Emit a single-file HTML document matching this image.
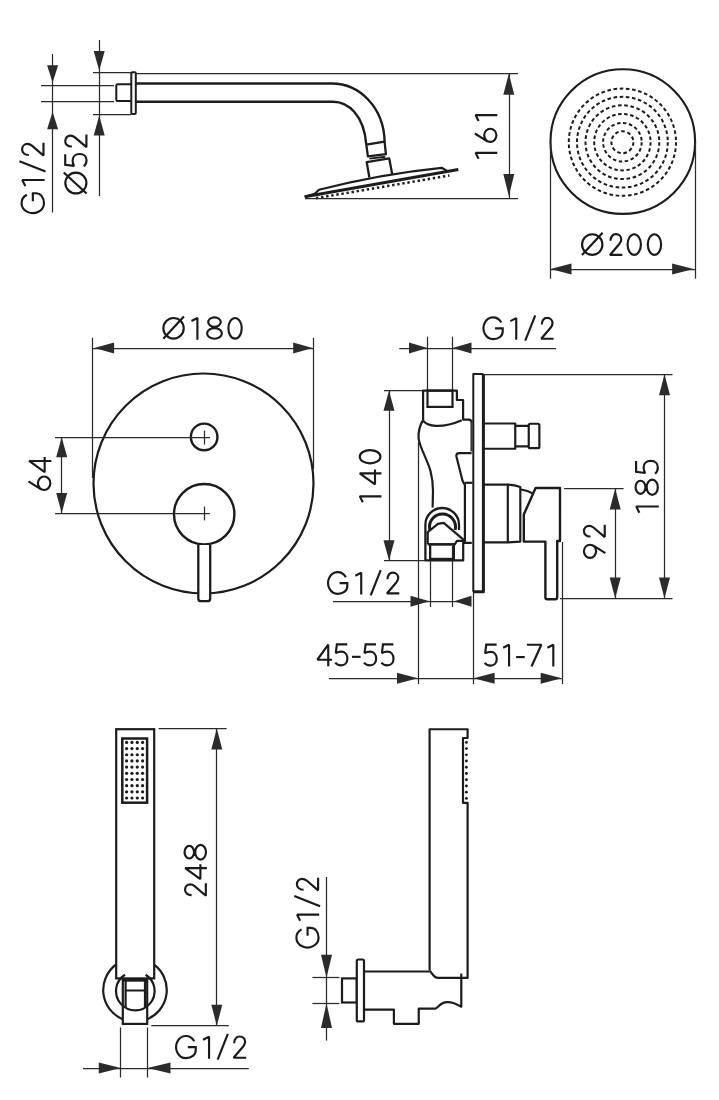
<!DOCTYPE html>
<html><head><meta charset="utf-8"><style>
html,body{margin:0;padding:0;background:#fff;}
svg{display:block;}
text{font-family:"Liberation Sans",sans-serif;fill:#1e1e1e;}
</style></head><body>
<svg width="719" height="1100" viewBox="0 0 719 1100">
<rect x="0" y="0" width="719" height="1100" fill="#fff"/>
<line x1="41" y1="85.5" x2="114" y2="85.5" stroke="#2b2b2b" stroke-width="1.25"/>
<line x1="41" y1="101.5" x2="114" y2="101.5" stroke="#2b2b2b" stroke-width="1.25"/>
<line x1="93" y1="72.5" x2="131" y2="72.5" stroke="#2b2b2b" stroke-width="1.25"/>
<line x1="93" y1="114.5" x2="131" y2="114.5" stroke="#2b2b2b" stroke-width="1.25"/>
<line x1="52.5" y1="54" x2="52.5" y2="212.5" stroke="#2b2b2b" stroke-width="1.25"/>
<polygon points="52.60,82.80 47.10,65.30 58.10,65.30" fill="#2b2b2b"/>
<polygon points="52.60,111.70 47.10,129.20 58.10,129.20" fill="#2b2b2b"/>
<line x1="99.5" y1="40" x2="99.5" y2="196" stroke="#2b2b2b" stroke-width="1.25"/>
<polygon points="99.20,70.60 93.70,51.10 104.70,51.10" fill="#2b2b2b"/>
<polygon points="99.20,115.60 93.70,135.60 104.70,135.60" fill="#2b2b2b"/>
<g fill="none" stroke="#1a1a1a" stroke-width="2.087378640776699" stroke-linecap="butt" stroke-linejoin="miter" stroke-miterlimit="1.6"><path transform="translate(44.6,214.20) rotate(-90) scale(1.03)" d="M18.86,-17.26 A9.62,10.88 0 1 0 10.70,-0.62 C16.30,-0.62 20.32,-3.83 20.32,-8.62 L20.32,-11.40 L12.6,-11.40"/><path transform="translate(44.6,186.84) rotate(-90) scale(1.03)" d="M0.7,-18.7 L6.62,-21.68 L6.62,0"/><path transform="translate(44.6,172.58) rotate(-90) scale(1.03)" d="M1.0,0.9 L11.0,-24.4"/><path transform="translate(44.6,156.71) rotate(-90) scale(1.03)" d="M1.7,-15.3 C1.6,-19.2 3.9,-21.85 7.0,-21.85 C10.3,-21.85 12.4,-19.5 12.4,-16.6 C12.4,-14.8 11.7,-13.6 10.7,-12.3 L1.1,-1.07 L13.5,-1.07"/></g>
<g fill="none" stroke="#1a1a1a" stroke-width="2.107843137254902" stroke-linecap="butt" stroke-linejoin="miter" stroke-miterlimit="1.6"><path transform="translate(87.5,194.50) rotate(-90) scale(1.02)" d="M1.07,-11.40 A10.18,10.33 0 1 0 21.43,-11.40 A10.18,10.33 0 1 0 1.07,-11.40 Z M1.0,-0.9 L21.6,-23.3"/><path transform="translate(87.5,167.30) rotate(-90) scale(1.02)" d="M12.9,-21.85 L2.5,-21.85 L1.4,-13.1 C3.0,-14.1 5.0,-14.6 6.9,-14.6 C10.6,-14.6 13.0,-11.7 13.0,-7.6 C13.0,-3.4 10.4,-0.95 6.8,-0.95 C4.6,-0.95 2.2,-1.8 0.9,-3.6"/><path transform="translate(87.5,148.27) rotate(-90) scale(1.02)" d="M1.7,-15.3 C1.6,-19.2 3.9,-21.85 7.0,-21.85 C10.3,-21.85 12.4,-19.5 12.4,-16.6 C12.4,-14.8 11.7,-13.6 10.7,-12.3 L1.1,-1.07 L13.5,-1.07"/></g>
<path d="M131.3,84.2 L117.5,84.2 Q116.3,84.2 116.3,85.4 L116.3,99.8 Q116.3,101 117.5,101 L131.3,101" stroke="#1c1c1c" stroke-width="2" fill="none" stroke-linejoin="round" />
<rect x="131.3" y="72.2" width="4.5" height="41.8" rx="1" stroke="#1c1c1c" stroke-width="2" fill="none"/>
<line x1="136" y1="73.5" x2="518" y2="73.5" stroke="#2b2b2b" stroke-width="1.25"/>
<path d="M136,83.5 L331.7,83.5 C360,83.5 384,108 384.6,141.7" stroke="#1c1c1c" stroke-width="2.4" fill="none" stroke-linejoin="round" />
<path d="M136,101.7 L333,101.7 C348,101.7 364,115 366.3,144.6" stroke="#1c1c1c" stroke-width="2.4" fill="none" stroke-linejoin="round" />
<path d="M366.3,144.6 L384.6,141.7 L385.9,154.2 L367.9,156.4 Z" stroke="#1c1c1c" stroke-width="2.3" fill="none" stroke-linejoin="round" />
<path d="M369.4,158.6 L385.3,156.7" stroke="#1c1c1c" stroke-width="1.9" fill="none" stroke-linejoin="round" />
<path d="M369.4,177.5 L366.7,162.1 L389.2,158.4 L392.2,174.2" stroke="#1c1c1c" stroke-width="2.3" fill="none" stroke-linejoin="round" />
<path d="M304.7,196.7 L458.3,169.4" stroke="#1c1c1c" stroke-width="3" fill="none" stroke-linejoin="round" />
<path d="M304.7,196.7 L314.7,193.7 L319,189.7 Q380,174 441.7,167.8 L446.7,170.6" stroke="#1c1c1c" stroke-width="2.2" fill="none" stroke-linejoin="round" />
<path d="M316,198.2 L449.4,175.5" stroke="#1c1c1c" stroke-width="2.5" stroke-dasharray="2.4 2.75" fill="none"/>
<line x1="305" y1="198.5" x2="518" y2="198.5" stroke="#2b2b2b" stroke-width="1.25"/>
<line x1="509.5" y1="73.3" x2="509.5" y2="198.6" stroke="#2b2b2b" stroke-width="1.25"/>
<polygon points="508.80,73.80 503.30,94.80 514.30,94.80" fill="#2b2b2b"/>
<polygon points="508.80,196.00 503.30,174.00 514.30,174.00" fill="#2b2b2b"/>
<g fill="none" stroke="#1a1a1a" stroke-width="2.15" stroke-linecap="butt" stroke-linejoin="miter" stroke-miterlimit="1.6"><path transform="translate(497.3,159.50) rotate(-90) scale(1.0)" d="M0.7,-18.7 L6.62,-21.68 L6.62,0"/><path transform="translate(497.3,143.30) rotate(-90) scale(1.0)" d="M1.40,-7.00 A6.60,6.10 0 1 0 14.60,-7.00 A6.60,6.10 0 1 0 1.40,-7.00 Z M9.8,-22.4 L2.0,-10.0"/><path transform="translate(497.3,121.70) rotate(-90) scale(1.0)" d="M0.7,-18.7 L6.62,-21.68 L6.62,0"/></g>
<circle cx="622.8" cy="141.6" r="72.3" stroke="#1c1c1c" stroke-width="2.1" fill="none" />
<circle cx="622.4" cy="142.2" r="11" stroke="#1c1c1c" stroke-width="2.0" fill="none" stroke-dasharray="3.644 2.639"/>
<circle cx="622.4" cy="142.2" r="19.3" stroke="#1c1c1c" stroke-width="2.0" fill="none" stroke-dasharray="3.517 2.547"/>
<circle cx="622.4" cy="142.2" r="28.2" stroke="#1c1c1c" stroke-width="2.0" fill="none" stroke-dasharray="3.544 2.566"/>
<circle cx="622.4" cy="142.2" r="36.9" stroke="#1c1c1c" stroke-width="2.0" fill="none" stroke-dasharray="3.634 2.632"/>
<circle cx="622.4" cy="142.2" r="45.4" stroke="#1c1c1c" stroke-width="2.0" fill="none" stroke-dasharray="3.597 2.605"/>
<circle cx="622.4" cy="142.2" r="53.6" stroke="#1c1c1c" stroke-width="2.0" fill="none" stroke-dasharray="3.617 2.619"/>
<line x1="550.5" y1="141.6" x2="550.5" y2="278.7" stroke="#2b2b2b" stroke-width="1.25"/>
<line x1="695.5" y1="141.6" x2="695.5" y2="278.7" stroke="#2b2b2b" stroke-width="1.25"/>
<line x1="550.5" y1="269.5" x2="695.1" y2="269.5" stroke="#2b2b2b" stroke-width="1.25"/>
<polygon points="550.50,269.00 571.50,263.50 571.50,274.50" fill="#2b2b2b"/>
<polygon points="693.60,269.00 672.10,263.50 672.10,274.50" fill="#2b2b2b"/>
<g fill="none" stroke="#1a1a1a" stroke-width="2.15" stroke-linecap="butt" stroke-linejoin="miter" stroke-miterlimit="1.6"><path transform="translate(581.00,256) scale(1.0)" d="M1.07,-11.40 A10.18,10.33 0 1 0 21.43,-11.40 A10.18,10.33 0 1 0 1.07,-11.40 Z M1.0,-0.9 L21.6,-23.3"/><path transform="translate(608.83,256) scale(1.0)" d="M1.7,-15.3 C1.6,-19.2 3.9,-21.85 7.0,-21.85 C10.3,-21.85 12.4,-19.5 12.4,-16.6 C12.4,-14.8 11.7,-13.6 10.7,-12.3 L1.1,-1.07 L13.5,-1.07"/><path transform="translate(626.47,256) scale(1.0)" d="M1.08,-11.40 A6.67,10.33 0 1 0 14.43,-11.40 A6.67,10.33 0 1 0 1.08,-11.40 Z"/><path transform="translate(646.70,256) scale(1.0)" d="M1.08,-11.40 A6.67,10.33 0 1 0 14.43,-11.40 A6.67,10.33 0 1 0 1.08,-11.40 Z"/></g>
<circle cx="203.5" cy="483.5" r="110" stroke="#1c1c1c" stroke-width="2.2" fill="none" />
<line x1="92.5" y1="337.8" x2="92.5" y2="478" stroke="#2b2b2b" stroke-width="1.25"/>
<line x1="313.5" y1="337.8" x2="313.5" y2="469" stroke="#2b2b2b" stroke-width="1.25"/>
<line x1="92.7" y1="348.5" x2="313.7" y2="348.5" stroke="#2b2b2b" stroke-width="1.25"/>
<polygon points="94.30,348.00 114.10,342.50 114.10,353.50" fill="#2b2b2b"/>
<polygon points="312.60,348.00 293.20,342.50 293.20,353.50" fill="#2b2b2b"/>
<g fill="none" stroke="#1a1a1a" stroke-width="2.15" stroke-linecap="butt" stroke-linejoin="miter" stroke-miterlimit="1.6"><path transform="translate(162.30,339.7) scale(1.0)" d="M1.07,-11.40 A10.18,10.33 0 1 0 21.43,-11.40 A10.18,10.33 0 1 0 1.07,-11.40 Z M1.0,-0.9 L21.6,-23.3"/><path transform="translate(190.79,339.7) scale(1.0)" d="M0.7,-18.7 L6.62,-21.68 L6.62,0"/><path transform="translate(206.18,339.7) scale(1.0)" d="M2.00,-17.60 A6.30,4.75 0 1 0 14.60,-17.60 A6.30,4.75 0 1 0 2.00,-17.60 Z M0.95,-6.30 A7.35,5.35 0 1 0 15.65,-6.30 A7.35,5.35 0 1 0 0.95,-6.30 Z"/><path transform="translate(227.30,339.7) scale(1.0)" d="M1.08,-11.40 A6.67,10.33 0 1 0 14.43,-11.40 A6.67,10.33 0 1 0 1.08,-11.40 Z"/></g>
<circle cx="204.15" cy="436.9" r="13.3" stroke="#1c1c1c" stroke-width="2.4" fill="#fff" />
<circle cx="204.2" cy="514.2" r="30.2" stroke="#1c1c1c" stroke-width="2.4" fill="#fff" />
<line x1="55" y1="437.5" x2="210" y2="437.5" stroke="#2b2b2b" stroke-width="1.25"/>
<line x1="204.5" y1="430.6" x2="204.5" y2="444.6" stroke="#2b2b2b" stroke-width="1.25"/>
<line x1="55" y1="513.5" x2="209.8" y2="513.5" stroke="#2b2b2b" stroke-width="1.25"/>
<line x1="204.5" y1="506.7" x2="204.5" y2="520.4" stroke="#2b2b2b" stroke-width="1.25"/>
<line x1="61.5" y1="437.3" x2="61.5" y2="513" stroke="#2b2b2b" stroke-width="1.25"/>
<polygon points="61.70,437.30 56.20,457.30 67.20,457.30" fill="#2b2b2b"/>
<polygon points="61.70,513.00 56.20,493.00 67.20,493.00" fill="#2b2b2b"/>
<g fill="none" stroke="#1a1a1a" stroke-width="2.107843137254902" stroke-linecap="butt" stroke-linejoin="miter" stroke-miterlimit="1.6"><path transform="translate(51.3,491.40) rotate(-90) scale(1.02)" d="M1.40,-7.00 A6.60,6.10 0 1 0 14.60,-7.00 A6.60,6.10 0 1 0 1.40,-7.00 Z M9.8,-22.4 L2.0,-10.0"/><path transform="translate(51.3,473.22) rotate(-90) scale(1.02)" d="M12.0,0 L12.0,-21.73 L1.07,-6.5 L15.8,-6.5"/></g>
<path d="M198.3,545 L198.3,598.4 Q198.3,601.2 201.1,601.2 L207.4,601.2 Q210.2,601.2 210.2,598.4 L210.2,545" stroke="#1c1c1c" stroke-width="2.3" fill="#fff" stroke-linejoin="round" />
<line x1="399.3" y1="348.5" x2="556" y2="348.5" stroke="#2b2b2b" stroke-width="1.25"/>
<polygon points="427.50,348.00 409.00,342.50 409.00,353.50" fill="#2b2b2b"/>
<polygon points="452.50,348.00 471.50,342.50 471.50,353.50" fill="#2b2b2b"/>
<line x1="427.5" y1="336.7" x2="427.5" y2="391" stroke="#2b2b2b" stroke-width="1.25"/>
<line x1="452.5" y1="336.7" x2="452.5" y2="391" stroke="#2b2b2b" stroke-width="1.25"/>
<g fill="none" stroke="#1a1a1a" stroke-width="2.15" stroke-linecap="butt" stroke-linejoin="miter" stroke-miterlimit="1.6"><path transform="translate(482.40,339.8) scale(1.0)" d="M18.86,-17.26 A9.62,10.88 0 1 0 10.70,-0.62 C16.30,-0.62 20.32,-3.83 20.32,-8.62 L20.32,-11.40 L12.6,-11.40"/><path transform="translate(509.63,339.8) scale(1.0)" d="M0.7,-18.7 L6.62,-21.68 L6.62,0"/><path transform="translate(524.25,339.8) scale(1.0)" d="M1.0,0.9 L11.0,-24.4"/><path transform="translate(540.10,339.8) scale(1.0)" d="M1.7,-15.3 C1.6,-19.2 3.9,-21.85 7.0,-21.85 C10.3,-21.85 12.4,-19.5 12.4,-16.6 C12.4,-14.8 11.7,-13.6 10.7,-12.3 L1.1,-1.07 L13.5,-1.07"/></g>
<line x1="384" y1="390.5" x2="423" y2="390.5" stroke="#2b2b2b" stroke-width="1.25"/>
<line x1="384" y1="560.5" x2="426" y2="560.5" stroke="#2b2b2b" stroke-width="1.25"/>
<line x1="389.5" y1="390.7" x2="389.5" y2="560.3" stroke="#2b2b2b" stroke-width="1.25"/>
<polygon points="389.00,390.70 383.50,410.70 394.50,410.70" fill="#2b2b2b"/>
<polygon points="389.00,560.30 383.50,540.30 394.50,540.30" fill="#2b2b2b"/>
<g fill="none" stroke="#1a1a1a" stroke-width="2.15" stroke-linecap="butt" stroke-linejoin="miter" stroke-miterlimit="1.6"><path transform="translate(381.5,503.00) rotate(-90) scale(1.0)" d="M0.7,-18.7 L6.62,-21.68 L6.62,0"/><path transform="translate(381.5,485.41) rotate(-90) scale(1.0)" d="M12.0,0 L12.0,-21.73 L1.07,-6.5 L15.8,-6.5"/><path transform="translate(381.5,464.50) rotate(-90) scale(1.0)" d="M1.08,-11.40 A6.67,10.33 0 1 0 14.43,-11.40 A6.67,10.33 0 1 0 1.08,-11.40 Z"/></g>
<line x1="483" y1="374.5" x2="672.5" y2="374.5" stroke="#2b2b2b" stroke-width="1.25"/>
<line x1="560" y1="598.5" x2="672.5" y2="598.5" stroke="#2b2b2b" stroke-width="1.25"/>
<line x1="664.5" y1="374.3" x2="664.5" y2="598.4" stroke="#2b2b2b" stroke-width="1.25"/>
<polygon points="664.50,374.30 659.00,395.30 670.00,395.30" fill="#2b2b2b"/>
<polygon points="664.50,598.40 659.00,577.40 670.00,577.40" fill="#2b2b2b"/>
<g fill="none" stroke="#1a1a1a" stroke-width="2.067307692307692" stroke-linecap="butt" stroke-linejoin="miter" stroke-miterlimit="1.6"><path transform="translate(658.8,513.40) rotate(-90) scale(1.04)" d="M0.7,-18.7 L6.62,-21.68 L6.62,0"/><path transform="translate(658.8,495.91) rotate(-90) scale(1.04)" d="M2.00,-17.60 A6.30,4.75 0 1 0 14.60,-17.60 A6.30,4.75 0 1 0 2.00,-17.60 Z M0.95,-6.30 A7.35,5.35 0 1 0 15.65,-6.30 A7.35,5.35 0 1 0 0.95,-6.30 Z"/><path transform="translate(658.8,474.46) rotate(-90) scale(1.04)" d="M12.9,-21.85 L2.5,-21.85 L1.4,-13.1 C3.0,-14.1 5.0,-14.6 6.9,-14.6 C10.6,-14.6 13.0,-11.7 13.0,-7.6 C13.0,-3.4 10.4,-0.95 6.8,-0.95 C4.6,-0.95 2.2,-1.8 0.9,-3.6"/></g>
<line x1="564" y1="488.5" x2="623.6" y2="488.5" stroke="#2b2b2b" stroke-width="1.25"/>
<line x1="615.5" y1="488.5" x2="615.5" y2="598.4" stroke="#2b2b2b" stroke-width="1.25"/>
<polygon points="615.20,488.50 609.70,509.50 620.70,509.50" fill="#2b2b2b"/>
<polygon points="615.20,598.40 609.70,577.40 620.70,577.40" fill="#2b2b2b"/>
<g fill="none" stroke="#1a1a1a" stroke-width="2.15" stroke-linecap="butt" stroke-linejoin="miter" stroke-miterlimit="1.6"><path transform="translate(605.8,558.90) rotate(-90) scale(1.0)" d="M1.00,-15.80 A6.60,6.10 0 1 0 14.20,-15.80 A6.60,6.10 0 1 0 1.00,-15.80 Z M5.8,-0.4 L13.6,-12.8"/><path transform="translate(605.8,538.20) rotate(-90) scale(1.0)" d="M1.7,-15.3 C1.6,-19.2 3.9,-21.85 7.0,-21.85 C10.3,-21.85 12.4,-19.5 12.4,-16.6 C12.4,-14.8 11.7,-13.6 10.7,-12.3 L1.1,-1.07 L13.5,-1.07"/></g>
<line x1="333" y1="601.5" x2="471" y2="601.5" stroke="#2b2b2b" stroke-width="1.25"/>
<polygon points="429.50,601.20 410.50,595.70 410.50,606.70" fill="#2b2b2b"/>
<polygon points="454.00,601.20 471.50,595.70 471.50,606.70" fill="#2b2b2b"/>
<line x1="430.5" y1="546" x2="430.5" y2="607" stroke="#2b2b2b" stroke-width="1.25"/>
<line x1="452.5" y1="546" x2="452.5" y2="607" stroke="#2b2b2b" stroke-width="1.25"/>
<g fill="none" stroke="#1a1a1a" stroke-width="2.15" stroke-linecap="butt" stroke-linejoin="miter" stroke-miterlimit="1.6"><path transform="translate(327.00,594.5) scale(1.0)" d="M18.86,-17.26 A9.62,10.88 0 1 0 10.70,-0.62 C16.30,-0.62 20.32,-3.83 20.32,-8.62 L20.32,-11.40 L12.6,-11.40"/><path transform="translate(354.61,594.5) scale(1.0)" d="M0.7,-18.7 L6.62,-21.68 L6.62,0"/><path transform="translate(369.70,594.5) scale(1.0)" d="M1.0,0.9 L11.0,-24.4"/><path transform="translate(385.80,594.5) scale(1.0)" d="M1.7,-15.3 C1.6,-19.2 3.9,-21.85 7.0,-21.85 C10.3,-21.85 12.4,-19.5 12.4,-16.6 C12.4,-14.8 11.7,-13.6 10.7,-12.3 L1.1,-1.07 L13.5,-1.07"/></g>
<line x1="329" y1="678.5" x2="561.7" y2="678.5" stroke="#2b2b2b" stroke-width="1.25"/>
<polygon points="418.00,678.20 397.00,672.70 397.00,683.70" fill="#2b2b2b"/>
<polygon points="473.60,678.20 494.60,672.70 494.60,683.70" fill="#2b2b2b"/>
<polygon points="561.70,678.20 540.70,672.70 540.70,683.70" fill="#2b2b2b"/>
<line x1="418.5" y1="442" x2="418.5" y2="684" stroke="#2b2b2b" stroke-width="1.25"/>
<line x1="473.5" y1="591" x2="473.5" y2="684" stroke="#2b2b2b" stroke-width="1.25"/>
<line x1="562.5" y1="542" x2="562.5" y2="684" stroke="#2b2b2b" stroke-width="1.25"/>
<g fill="none" stroke="#1a1a1a" stroke-width="2.15" stroke-linecap="butt" stroke-linejoin="miter" stroke-miterlimit="1.6"><path transform="translate(316.25,666.25) scale(1.0)" d="M12.0,0 L12.0,-21.73 L1.07,-6.5 L15.8,-6.5"/><path transform="translate(334.37,666.25) scale(1.0)" d="M12.9,-21.85 L2.5,-21.85 L1.4,-13.1 C3.0,-14.1 5.0,-14.6 6.9,-14.6 C10.6,-14.6 13.0,-11.7 13.0,-7.6 C13.0,-3.4 10.4,-0.95 6.8,-0.95 C4.6,-0.95 2.2,-1.8 0.9,-3.6"/><path transform="translate(351.98,666.25) scale(1.0)" d="M0,-9.4 L8.6,-9.4"/><path transform="translate(363.12,666.25) scale(1.0)" d="M12.9,-21.85 L2.5,-21.85 L1.4,-13.1 C3.0,-14.1 5.0,-14.6 6.9,-14.6 C10.6,-14.6 13.0,-11.7 13.0,-7.6 C13.0,-3.4 10.4,-0.95 6.8,-0.95 C4.6,-0.95 2.2,-1.8 0.9,-3.6"/><path transform="translate(380.50,666.25) scale(1.0)" d="M12.9,-21.85 L2.5,-21.85 L1.4,-13.1 C3.0,-14.1 5.0,-14.6 6.9,-14.6 C10.6,-14.6 13.0,-11.7 13.0,-7.6 C13.0,-3.4 10.4,-0.95 6.8,-0.95 C4.6,-0.95 2.2,-1.8 0.9,-3.6"/></g>
<g fill="none" stroke="#1a1a1a" stroke-width="2.15" stroke-linecap="butt" stroke-linejoin="miter" stroke-miterlimit="1.6"><path transform="translate(483.75,666.5) scale(1.0)" d="M12.9,-21.85 L2.5,-21.85 L1.4,-13.1 C3.0,-14.1 5.0,-14.6 6.9,-14.6 C10.6,-14.6 13.0,-11.7 13.0,-7.6 C13.0,-3.4 10.4,-0.95 6.8,-0.95 C4.6,-0.95 2.2,-1.8 0.9,-3.6"/><path transform="translate(502.44,666.5) scale(1.0)" d="M0.7,-18.7 L6.62,-21.68 L6.62,0"/><path transform="translate(516.12,666.5) scale(1.0)" d="M0,-9.4 L8.6,-9.4"/><path transform="translate(526.91,666.5) scale(1.0)" d="M0,-21.73 L14.43,-21.73 L4.6,0"/><path transform="translate(546.70,666.5) scale(1.0)" d="M0.7,-18.7 L6.62,-21.68 L6.62,0"/></g>
<path d="M473.3,591.8 L473.3,373.9 L483.4,373.9" stroke="#1c1c1c" stroke-width="2" fill="none" stroke-linejoin="round" />
<path d="M483.4,373.9 L483.4,591.8 L473.3,591.8" stroke="#1c1c1c" stroke-width="3" fill="none" stroke-linejoin="round" />
<path d="M484,423.5 L515.25,423.5 L515.25,448.75 L484,448.75" stroke="#1c1c1c" stroke-width="2.2" fill="none" stroke-linejoin="round" />
<path d="M515.25,425.8 L528.75,425.8 M515.25,446.3 L528.75,446.3" stroke="#1c1c1c" stroke-width="2.2" fill="none" stroke-linejoin="round" />
<rect x="528.75" y="423.75" width="10.6" height="24.4" rx="1.5" stroke="#1c1c1c" stroke-width="2.2" fill="none"/>
<path d="M484,484.6 L507.8,484.6 L507.8,542.3 L484,542.3" stroke="#1c1c1c" stroke-width="2.2" fill="none" stroke-linejoin="round" />
<path d="M507.8,484.6 Q515,485 520.3,487 L520.3,541.6 L507.8,542.3" stroke="#1c1c1c" stroke-width="2.2" fill="none" stroke-linejoin="round" />
<path d="M521,489.5 Q528,490.5 533,493.6" stroke="#1c1c1c" stroke-width="2.2" fill="none" stroke-linejoin="round" />
<path d="M535.6,488 L560,488 L560,541 L557.2,541 L557.2,597.3 Q557.2,599.3 555.2,599.3 L547.4,599.3 Q545.4,599.3 545.4,597.3 L545.4,541.6 L523.8,541.6 L523.8,514.5 Z" stroke="#1c1c1c" stroke-width="2.4" fill="#fff" stroke-linejoin="round" />
<path d="M423.1,420.5 L423.1,390.6 L456.9,390.6 L456.9,400 L463.1,400 L463.1,419.6 L468.8,419.6 Q471.6,419.8 471.6,422.5" stroke="#1c1c1c" stroke-width="2.2" fill="none" stroke-linejoin="round" />
<rect x="427.5" y="390.6" width="25" height="16.3" rx="0" stroke="#1c1c1c" stroke-width="2.2" fill="none"/>
<path d="M422.9,420.4 C425,423.5 428,425.6 436,425.9 C446,426.2 452,424.5 461.7,420.2" stroke="#1c1c1c" stroke-width="2.2" fill="none" stroke-linejoin="round" />
<path d="M422.7,420.6 C419.5,426 418.2,432 418.6,438.5 C419.5,447 427.5,460 430.5,471 C432.3,478 433,484 433,491 L432.6,507.5" stroke="#1c1c1c" stroke-width="2.2" fill="none" stroke-linejoin="round" />
<path d="M471.6,422 L471.6,451.5" stroke="#3a3a3a" stroke-width="2.4" fill="none" stroke-linejoin="round" />
<path d="M471.6,453.1 L459,453.1 Q456.3,453.1 456.3,456 L462.6,480.9 Q463.6,483.4 464.9,484.8 L464.9,541" stroke="#1c1c1c" stroke-width="2.2" fill="none" stroke-linejoin="round" />
<path d="M464.5,482.8 L472.5,482.8" stroke="#1c1c1c" stroke-width="2.2" fill="none" stroke-linejoin="round" />
<path d="M425.4,560.4 L425.4,524.8 A16.8,16.8 0 0 1 459,524.8 L459,530" stroke="#1c1c1c" stroke-width="2.3" fill="none" stroke-linejoin="round" />
<path d="M429.85,530 A13,13 0 1 1 455.15,530" stroke="#1c1c1c" stroke-width="3" fill="none" stroke-linejoin="round" />
<path d="M427.7,544.3 L427.7,532.1 L437.9,523.9 L443.7,522.9 L463.7,539.9 L465.6,542.8" stroke="#1c1c1c" stroke-width="2.2" fill="#fff" stroke-linejoin="round" />
<path d="M425.4,560.4 L463.2,560.4 L463.2,542.8 L471.8,542.8" stroke="#1c1c1c" stroke-width="2.2" fill="none" stroke-linejoin="round" />
<path d="M427.7,544.3 L454.9,544.3 L456.9,540.9 L462.7,540.9 L464.7,542.8" stroke="#1c1c1c" stroke-width="2.2" fill="none" stroke-linejoin="round" />
<rect x="430.1" y="544.3" width="23.8" height="14.6" rx="0" stroke="#1c1c1c" stroke-width="2.2" fill="none"/>
<rect x="116.2" y="729.2" width="38.0" height="249.2" rx="0" stroke="#1c1c1c" stroke-width="2.2" fill="#fff"/>
<path d="M116.1,964.5 A31.7,31.7 0 0 0 122.8,1019.3" stroke="#1c1c1c" stroke-width="2.2" fill="none" stroke-linejoin="round" />
<path d="M154.4,964.9 A31.7,31.7 0 0 1 147.2,1019.3" stroke="#1c1c1c" stroke-width="2.2" fill="none" stroke-linejoin="round" />
<rect x="122.8" y="979.4" width="24.4" height="44.5" rx="0" stroke="#1c1c1c" stroke-width="2.2" fill="#fff"/>
<path d="M125,974.7 A19.3,19.3 0 1 0 145.6,974.7" stroke="#1c1c1c" stroke-width="2.2" fill="none" stroke-linejoin="round" />
<path d="M122.8,980.2 L147.2,980.2" stroke="#1c1c1c" stroke-width="3" fill="none" stroke-linejoin="round" />
<path d="M125.6,981 L125.6,1007 M145,981 L145,1007 M125.6,990.5 L145,990.5" stroke="#1c1c1c" stroke-width="2.2" fill="none" stroke-linejoin="round" />
<rect x="122.3" y="738.5" width="24.8" height="64.2" rx="0" stroke="#1c1c1c" stroke-width="2.5" fill="none"/>
<circle cx="126.6" cy="742.4" r="1.6" stroke="#1c1c1c" stroke-width="0" fill="#1c1c1c" />
<circle cx="126.6" cy="748.5799999999999" r="1.6" stroke="#1c1c1c" stroke-width="0" fill="#1c1c1c" />
<circle cx="126.6" cy="754.76" r="1.6" stroke="#1c1c1c" stroke-width="0" fill="#1c1c1c" />
<circle cx="126.6" cy="760.9399999999999" r="1.6" stroke="#1c1c1c" stroke-width="0" fill="#1c1c1c" />
<circle cx="126.6" cy="767.12" r="1.6" stroke="#1c1c1c" stroke-width="0" fill="#1c1c1c" />
<circle cx="126.6" cy="773.3" r="1.6" stroke="#1c1c1c" stroke-width="0" fill="#1c1c1c" />
<circle cx="126.6" cy="779.48" r="1.6" stroke="#1c1c1c" stroke-width="0" fill="#1c1c1c" />
<circle cx="126.6" cy="785.66" r="1.6" stroke="#1c1c1c" stroke-width="0" fill="#1c1c1c" />
<circle cx="126.6" cy="791.8399999999999" r="1.6" stroke="#1c1c1c" stroke-width="0" fill="#1c1c1c" />
<circle cx="126.6" cy="798.02" r="1.6" stroke="#1c1c1c" stroke-width="0" fill="#1c1c1c" />
<circle cx="131.93" cy="742.4" r="1.6" stroke="#1c1c1c" stroke-width="0" fill="#1c1c1c" />
<circle cx="131.93" cy="748.5799999999999" r="1.6" stroke="#1c1c1c" stroke-width="0" fill="#1c1c1c" />
<circle cx="131.93" cy="754.76" r="1.6" stroke="#1c1c1c" stroke-width="0" fill="#1c1c1c" />
<circle cx="131.93" cy="760.9399999999999" r="1.6" stroke="#1c1c1c" stroke-width="0" fill="#1c1c1c" />
<circle cx="131.93" cy="767.12" r="1.6" stroke="#1c1c1c" stroke-width="0" fill="#1c1c1c" />
<circle cx="131.93" cy="773.3" r="1.6" stroke="#1c1c1c" stroke-width="0" fill="#1c1c1c" />
<circle cx="131.93" cy="779.48" r="1.6" stroke="#1c1c1c" stroke-width="0" fill="#1c1c1c" />
<circle cx="131.93" cy="785.66" r="1.6" stroke="#1c1c1c" stroke-width="0" fill="#1c1c1c" />
<circle cx="131.93" cy="791.8399999999999" r="1.6" stroke="#1c1c1c" stroke-width="0" fill="#1c1c1c" />
<circle cx="131.93" cy="798.02" r="1.6" stroke="#1c1c1c" stroke-width="0" fill="#1c1c1c" />
<circle cx="137.26" cy="742.4" r="1.6" stroke="#1c1c1c" stroke-width="0" fill="#1c1c1c" />
<circle cx="137.26" cy="748.5799999999999" r="1.6" stroke="#1c1c1c" stroke-width="0" fill="#1c1c1c" />
<circle cx="137.26" cy="754.76" r="1.6" stroke="#1c1c1c" stroke-width="0" fill="#1c1c1c" />
<circle cx="137.26" cy="760.9399999999999" r="1.6" stroke="#1c1c1c" stroke-width="0" fill="#1c1c1c" />
<circle cx="137.26" cy="767.12" r="1.6" stroke="#1c1c1c" stroke-width="0" fill="#1c1c1c" />
<circle cx="137.26" cy="773.3" r="1.6" stroke="#1c1c1c" stroke-width="0" fill="#1c1c1c" />
<circle cx="137.26" cy="779.48" r="1.6" stroke="#1c1c1c" stroke-width="0" fill="#1c1c1c" />
<circle cx="137.26" cy="785.66" r="1.6" stroke="#1c1c1c" stroke-width="0" fill="#1c1c1c" />
<circle cx="137.26" cy="791.8399999999999" r="1.6" stroke="#1c1c1c" stroke-width="0" fill="#1c1c1c" />
<circle cx="137.26" cy="798.02" r="1.6" stroke="#1c1c1c" stroke-width="0" fill="#1c1c1c" />
<circle cx="142.59" cy="742.4" r="1.6" stroke="#1c1c1c" stroke-width="0" fill="#1c1c1c" />
<circle cx="142.59" cy="748.5799999999999" r="1.6" stroke="#1c1c1c" stroke-width="0" fill="#1c1c1c" />
<circle cx="142.59" cy="754.76" r="1.6" stroke="#1c1c1c" stroke-width="0" fill="#1c1c1c" />
<circle cx="142.59" cy="760.9399999999999" r="1.6" stroke="#1c1c1c" stroke-width="0" fill="#1c1c1c" />
<circle cx="142.59" cy="767.12" r="1.6" stroke="#1c1c1c" stroke-width="0" fill="#1c1c1c" />
<circle cx="142.59" cy="773.3" r="1.6" stroke="#1c1c1c" stroke-width="0" fill="#1c1c1c" />
<circle cx="142.59" cy="779.48" r="1.6" stroke="#1c1c1c" stroke-width="0" fill="#1c1c1c" />
<circle cx="142.59" cy="785.66" r="1.6" stroke="#1c1c1c" stroke-width="0" fill="#1c1c1c" />
<circle cx="142.59" cy="791.8399999999999" r="1.6" stroke="#1c1c1c" stroke-width="0" fill="#1c1c1c" />
<circle cx="142.59" cy="798.02" r="1.6" stroke="#1c1c1c" stroke-width="0" fill="#1c1c1c" />
<line x1="158.6" y1="728.5" x2="226.6" y2="728.5" stroke="#2b2b2b" stroke-width="1.25"/>
<line x1="151.3" y1="1025.5" x2="228.75" y2="1025.5" stroke="#2b2b2b" stroke-width="1.25"/>
<line x1="216.5" y1="728.4" x2="216.5" y2="1025.7" stroke="#2b2b2b" stroke-width="1.25"/>
<polygon points="216.80,728.40 211.30,749.40 222.30,749.40" fill="#2b2b2b"/>
<polygon points="216.80,1025.70 211.30,1004.70 222.30,1004.70" fill="#2b2b2b"/>
<g fill="none" stroke="#1a1a1a" stroke-width="2.15" stroke-linecap="butt" stroke-linejoin="miter" stroke-miterlimit="1.6"><path transform="translate(206.9,896.80) rotate(-90) scale(1.0)" d="M1.7,-15.3 C1.6,-19.2 3.9,-21.85 7.0,-21.85 C10.3,-21.85 12.4,-19.5 12.4,-16.6 C12.4,-14.8 11.7,-13.6 10.7,-12.3 L1.1,-1.07 L13.5,-1.07"/><path transform="translate(206.9,880.12) rotate(-90) scale(1.0)" d="M12.0,0 L12.0,-21.73 L1.07,-6.5 L15.8,-6.5"/><path transform="translate(206.9,860.50) rotate(-90) scale(1.0)" d="M2.00,-17.60 A6.30,4.75 0 1 0 14.60,-17.60 A6.30,4.75 0 1 0 2.00,-17.60 Z M0.95,-6.30 A7.35,5.35 0 1 0 15.65,-6.30 A7.35,5.35 0 1 0 0.95,-6.30 Z"/></g>
<line x1="120.5" y1="1027.5" x2="120.5" y2="1077.5" stroke="#2b2b2b" stroke-width="1.25"/>
<line x1="147.5" y1="1027.5" x2="147.5" y2="1077.5" stroke="#2b2b2b" stroke-width="1.25"/>
<line x1="83" y1="1068.5" x2="248.75" y2="1068.5" stroke="#2b2b2b" stroke-width="1.25"/>
<polygon points="120.75,1068.00 98.75,1062.50 98.75,1073.50" fill="#2b2b2b"/>
<polygon points="147.50,1068.00 170.50,1062.50 170.50,1073.50" fill="#2b2b2b"/>
<g fill="none" stroke="#1a1a1a" stroke-width="2.107843137254902" stroke-linecap="butt" stroke-linejoin="miter" stroke-miterlimit="1.6"><path transform="translate(175.00,1058.8) scale(1.02)" d="M18.86,-17.26 A9.62,10.88 0 1 0 10.70,-0.62 C16.30,-0.62 20.32,-3.83 20.32,-8.62 L20.32,-11.40 L12.6,-11.40"/><path transform="translate(202.29,1058.8) scale(1.02)" d="M0.7,-18.7 L6.62,-21.68 L6.62,0"/><path transform="translate(216.63,1058.8) scale(1.02)" d="M1.0,0.9 L11.0,-24.4"/><path transform="translate(232.48,1058.8) scale(1.02)" d="M1.7,-15.3 C1.6,-19.2 3.9,-21.85 7.0,-21.85 C10.3,-21.85 12.4,-19.5 12.4,-16.6 C12.4,-14.8 11.7,-13.6 10.7,-12.3 L1.1,-1.07 L13.5,-1.07"/></g>
<path d="M429.6,970.6 L429.6,729.25 L467.6,729.25 L467.6,738 L463,738 L463,802.8 L467.6,802.8 L467.6,977.9 L461.3,977.9" stroke="#1c1c1c" stroke-width="2.2" fill="none" stroke-linejoin="round" />
<path d="M429.6,970.6 L434,976 Q435.5,977.8 438,977.8 L461.3,977.9" stroke="#1c1c1c" stroke-width="2.2" fill="none" stroke-linejoin="round" />
<circle cx="466.4" cy="742.4" r="1.45" stroke="#1c1c1c" stroke-width="0" fill="#1c1c1c" />
<circle cx="466.4" cy="748.62" r="1.45" stroke="#1c1c1c" stroke-width="0" fill="#1c1c1c" />
<circle cx="466.4" cy="754.84" r="1.45" stroke="#1c1c1c" stroke-width="0" fill="#1c1c1c" />
<circle cx="466.4" cy="761.06" r="1.45" stroke="#1c1c1c" stroke-width="0" fill="#1c1c1c" />
<circle cx="466.4" cy="767.28" r="1.45" stroke="#1c1c1c" stroke-width="0" fill="#1c1c1c" />
<circle cx="466.4" cy="773.5" r="1.45" stroke="#1c1c1c" stroke-width="0" fill="#1c1c1c" />
<circle cx="466.4" cy="779.72" r="1.45" stroke="#1c1c1c" stroke-width="0" fill="#1c1c1c" />
<circle cx="466.4" cy="785.9399999999999" r="1.45" stroke="#1c1c1c" stroke-width="0" fill="#1c1c1c" />
<circle cx="466.4" cy="792.16" r="1.45" stroke="#1c1c1c" stroke-width="0" fill="#1c1c1c" />
<circle cx="466.4" cy="798.38" r="1.45" stroke="#1c1c1c" stroke-width="0" fill="#1c1c1c" />
<rect x="342" y="978.4" width="14.8" height="24.1" rx="0" stroke="#1c1c1c" stroke-width="2.2" fill="none"/>
<rect x="356.8" y="959.5" width="7.2" height="61.9" rx="1.5" stroke="#1c1c1c" stroke-width="2.2" fill="#fff"/>
<path d="M364,971.5 L429.6,971.5" stroke="#1c1c1c" stroke-width="2.2" fill="none" stroke-linejoin="round" />
<path d="M461.3,973.6 L461.3,1006.7 C455,1003 448,1000.5 442.4,1003.2 C439,1005 437,1008.6 435.3,1008.6 L418.75,1008.6 L418.75,1023.8 L393.9,1023.8 L393.9,1009.6 L364,1009.6" stroke="#1c1c1c" stroke-width="2.2" fill="none" stroke-linejoin="round" />
<line x1="326.5" y1="877" x2="326.5" y2="1040.6" stroke="#2b2b2b" stroke-width="1.25"/>
<line x1="312.4" y1="977.5" x2="339.5" y2="977.5" stroke="#2b2b2b" stroke-width="1.25"/>
<line x1="312.4" y1="1003.5" x2="339.5" y2="1003.5" stroke="#2b2b2b" stroke-width="1.25"/>
<polygon points="326.50,977.70 321.00,954.70 332.00,954.70" fill="#2b2b2b"/>
<polygon points="326.50,1003.20 321.00,1028.00 332.00,1028.00" fill="#2b2b2b"/>
<g fill="none" stroke="#1a1a1a" stroke-width="2.107843137254902" stroke-linecap="butt" stroke-linejoin="miter" stroke-miterlimit="1.6"><path transform="translate(319.2,948.60) rotate(-90) scale(1.02)" d="M18.86,-17.26 A9.62,10.88 0 1 0 10.70,-0.62 C16.30,-0.62 20.32,-3.83 20.32,-8.62 L20.32,-11.40 L12.6,-11.40"/><path transform="translate(319.2,921.43) rotate(-90) scale(1.02)" d="M0.7,-18.7 L6.62,-21.68 L6.62,0"/><path transform="translate(319.2,907.24) rotate(-90) scale(1.02)" d="M1.0,0.9 L11.0,-24.4"/><path transform="translate(319.2,891.47) rotate(-90) scale(1.02)" d="M1.7,-15.3 C1.6,-19.2 3.9,-21.85 7.0,-21.85 C10.3,-21.85 12.4,-19.5 12.4,-16.6 C12.4,-14.8 11.7,-13.6 10.7,-12.3 L1.1,-1.07 L13.5,-1.07"/></g>
</svg>
</body></html>
